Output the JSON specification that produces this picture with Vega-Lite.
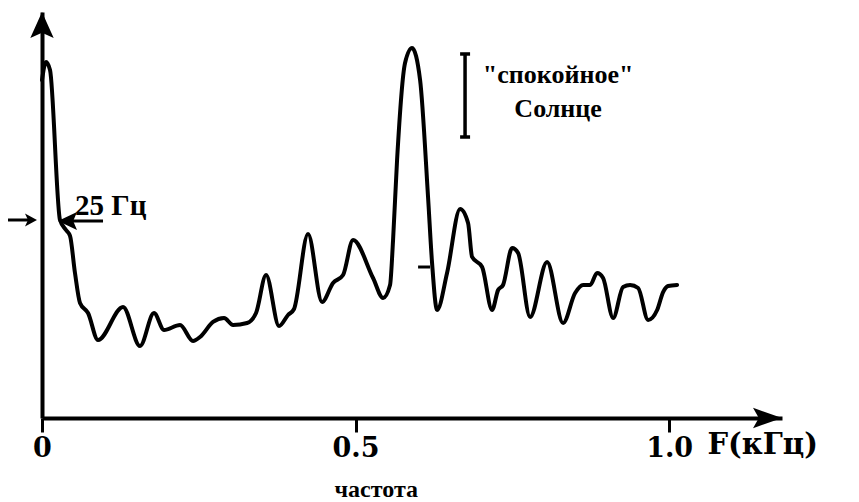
{
  "$schema": "https://vega.github.io/schema/vega-lite/v6.json",
  "width": 740,
  "height": 406,
  "autosize": "none",
  "padding": {"left": 42, "top": 12, "right": 77, "bottom": 84},
  "background": "white",
  "config": {"view": {"stroke": null}},
  "layer": [
    {
      "data": {"values": [
        {"f": 0.0, "v": 83.25}, {"f": 0.0064, "v": 87.68}, {"f": 0.0128, "v": 85.71},
        {"f": 0.0287, "v": 48.77}, {"f": 0.0383, "v": 46.31}, {"f": 0.0447, "v": 44.83},
        {"f": 0.0526, "v": 35.71}, {"f": 0.0606, "v": 28.33}, {"f": 0.0734, "v": 25.86},
        {"f": 0.0893, "v": 19.21}, {"f": 0.1292, "v": 27.34}, {"f": 0.1563, "v": 17.73},
        {"f": 0.1786, "v": 25.86}, {"f": 0.1946, "v": 21.67}, {"f": 0.2201, "v": 22.91},
        {"f": 0.2408, "v": 18.97}, {"f": 0.252, "v": 19.95}, {"f": 0.2727, "v": 23.65},
        {"f": 0.2903, "v": 24.63}, {"f": 0.3046, "v": 22.91}, {"f": 0.327, "v": 23.4},
        {"f": 0.3413, "v": 25.86}, {"f": 0.3573, "v": 35.22}, {"f": 0.378, "v": 22.66},
        {"f": 0.3923, "v": 25.37}, {"f": 0.4019, "v": 26.85}, {"f": 0.4242, "v": 45.32},
        {"f": 0.4466, "v": 28.57}, {"f": 0.4641, "v": 33.25}, {"f": 0.4801, "v": 35.22},
        {"f": 0.496, "v": 43.84}, {"f": 0.5279, "v": 34.48}, {"f": 0.5439, "v": 29.56},
        {"f": 0.555, "v": 32.76}, {"f": 0.5598, "v": 43.84}, {"f": 0.5662, "v": 63.55},
        {"f": 0.5789, "v": 87.44}, {"f": 0.5901, "v": 91.13}, {"f": 0.6029, "v": 83.25},
        {"f": 0.6156, "v": 54.43}, {"f": 0.622, "v": 38.18}, {"f": 0.63, "v": 26.6},
        {"f": 0.6459, "v": 35.71}, {"f": 0.6667, "v": 51.48}, {"f": 0.6794, "v": 48.03},
        {"f": 0.6858, "v": 39.66}, {"f": 0.7018, "v": 37.19}, {"f": 0.7177, "v": 26.6},
        {"f": 0.7273, "v": 31.53}, {"f": 0.7352, "v": 32.76}, {"f": 0.7496, "v": 41.87},
        {"f": 0.7592, "v": 40.64}, {"f": 0.7783, "v": 24.88}, {"f": 0.8054, "v": 38.42},
        {"f": 0.8309, "v": 23.4}, {"f": 0.8501, "v": 30.79}, {"f": 0.8628, "v": 32.76},
        {"f": 0.874, "v": 32.76}, {"f": 0.8852, "v": 35.71}, {"f": 0.8947, "v": 34.48},
        {"f": 0.9107, "v": 24.63}, {"f": 0.9266, "v": 32.27}, {"f": 0.9378, "v": 32.76},
        {"f": 0.9506, "v": 32.02}, {"f": 0.9665, "v": 24.14}, {"f": 0.9809, "v": 26.6},
        {"f": 0.9904, "v": 31.03}, {"f": 0.9984, "v": 32.51}, {"f": 1.0128, "v": 32.76}
      ]},
      "mark": {"type": "line", "color": "black", "strokeWidth": 4, "interpolate": "monotone", "strokeCap": "round", "strokeJoin": "round"},
      "encoding": {
        "x": {
          "field": "f", "type": "quantitative",
          "scale": {"domain": [0, 1.18], "nice": false, "zero": false},
          "axis": {
            "values": [0, 0.5, 1.0],
            "labelExpr": "datum.value == 0 ? '0' : format(datum.value, '.1f')",
            "grid": false,
            "domainColor": "black", "domainWidth": 4,
            "tickColor": "black", "tickWidth": 3, "tickSize": 14,
            "labelFont": "DejaVu Serif", "labelFontWeight": "bold", "labelFontSize": 27,
            "labelColor": "black", "labelPadding": 3, "labelFlush": false,
            "title": "F(кГц)",
            "titleFont": "DejaVu Serif", "titleFontWeight": "bold", "titleFontSize": 29,
            "titleColor": "black", "titleAlign": "left", "titleAnchor": "start",
            "titleBaseline": "alphabetic", "titleX": 665, "titleY": 35
          }
        },
        "y": {
          "field": "v", "type": "quantitative",
          "scale": {"domain": [0, 100], "nice": false, "zero": false},
          "axis": {
            "ticks": false, "labels": false, "grid": false, "title": null,
            "domainColor": "black", "domainWidth": 4
          }
        }
      }
    },
    {
      "data": {"values": [
        {"x": -0.0542, "x2": -0.015, "y": 48.77, "y2": 48.77},
        {"x": 0.035, "x2": 0.0973, "y": 48.52, "y2": 48.52},
        {"x": 0.5997, "x2": 0.6188, "y": 37.19, "y2": 37.19}
      ]},
      "mark": {"type": "rule", "color": "black", "strokeWidth": 3},
      "encoding": {
        "x": {"field": "x", "type": "quantitative"},
        "x2": {"field": "x2"},
        "y": {"field": "y", "type": "quantitative"},
        "y2": {"field": "y2"}
      }
    },
    {
      "data": {"values": [
        {"x": 0.6746, "x2": 0.6746, "y": 89.66, "y2": 69.21},
        {"x": 0.6667, "x2": 0.6826, "y": 89.66, "y2": 89.66},
        {"x": 0.6667, "x2": 0.6826, "y": 69.21, "y2": 69.21}
      ]},
      "mark": {"type": "rule", "color": "black", "strokeWidth": 3.5},
      "encoding": {
        "x": {"field": "x", "type": "quantitative"},
        "x2": {"field": "x2"},
        "y": {"field": "y", "type": "quantitative"},
        "y2": {"field": "y2"}
      }
    },
    {
      "data": {"values": [{"x": 0, "y": 100}]},
      "mark": {"type": "point", "shape": "M0,0L0.9,2L0,1.6L-0.9,2Z", "size": 676, "filled": true, "color": "black", "opacity": 1},
      "encoding": {"x": {"field": "x", "type": "quantitative"}, "y": {"field": "y", "type": "quantitative"}}
    },
    {
      "data": {"values": [{"x": 1.18, "y": 0}]},
      "mark": {"type": "point", "shape": "M0,0L-2,-0.7L-1.6,0L-2,0.7Z", "size": 841, "filled": true, "color": "black", "opacity": 1},
      "encoding": {"x": {"field": "x", "type": "quantitative"}, "y": {"field": "y", "type": "quantitative"}}
    },
    {
      "data": {"values": [{"x": -0.008, "y": 48.77}]},
      "mark": {"type": "point", "shape": "M0,0L-2,-1.1L-1.5,0L-2,1.1Z", "size": 144, "filled": true, "color": "black", "opacity": 1},
      "encoding": {"x": {"field": "x", "type": "quantitative"}, "y": {"field": "y", "type": "quantitative"}}
    },
    {
      "data": {"values": [{"x": 0.0255, "y": 48.52}]},
      "mark": {"type": "point", "shape": "M0,0L2,-0.95L1.6,0L2,0.95Z", "size": 361, "filled": true, "color": "black", "opacity": 1},
      "encoding": {"x": {"field": "x", "type": "quantitative"}, "y": {"field": "y", "type": "quantitative"}}
    },
    {
      "data": {"values": [{"x": 0.0526, "y": 50.0, "label": "25 Гц"}]},
      "mark": {"type": "text", "font": "Liberation Serif", "fontWeight": "bold", "fontSize": 29, "align": "left", "baseline": "alphabetic", "color": "black"},
      "encoding": {"x": {"field": "x", "type": "quantitative"}, "y": {"field": "y", "type": "quantitative"}, "text": {"field": "label"}}
    },
    {
      "data": {"values": [
        {"x": 0.823, "y": 82.51, "label": "\"спокойное\""},
        {"x": 0.823, "y": 74.14, "label": "Солнце"}
      ]},
      "mark": {"type": "text", "font": "Liberation Serif", "fontWeight": "bold", "fontSize": 26, "align": "center", "baseline": "alphabetic", "color": "black"},
      "encoding": {"x": {"field": "x", "type": "quantitative"}, "y": {"field": "y", "type": "quantitative"}, "text": {"field": "label"}}
    },
    {
      "data": {"values": [{"x": 0.533, "y": -19.46, "label": "частота"}]},
      "mark": {"type": "text", "font": "Liberation Serif", "fontWeight": "bold", "fontSize": 24, "align": "center", "baseline": "alphabetic", "color": "black"},
      "encoding": {"x": {"field": "x", "type": "quantitative"}, "y": {"field": "y", "type": "quantitative"}, "text": {"field": "label"}}
    }
  ]
}
